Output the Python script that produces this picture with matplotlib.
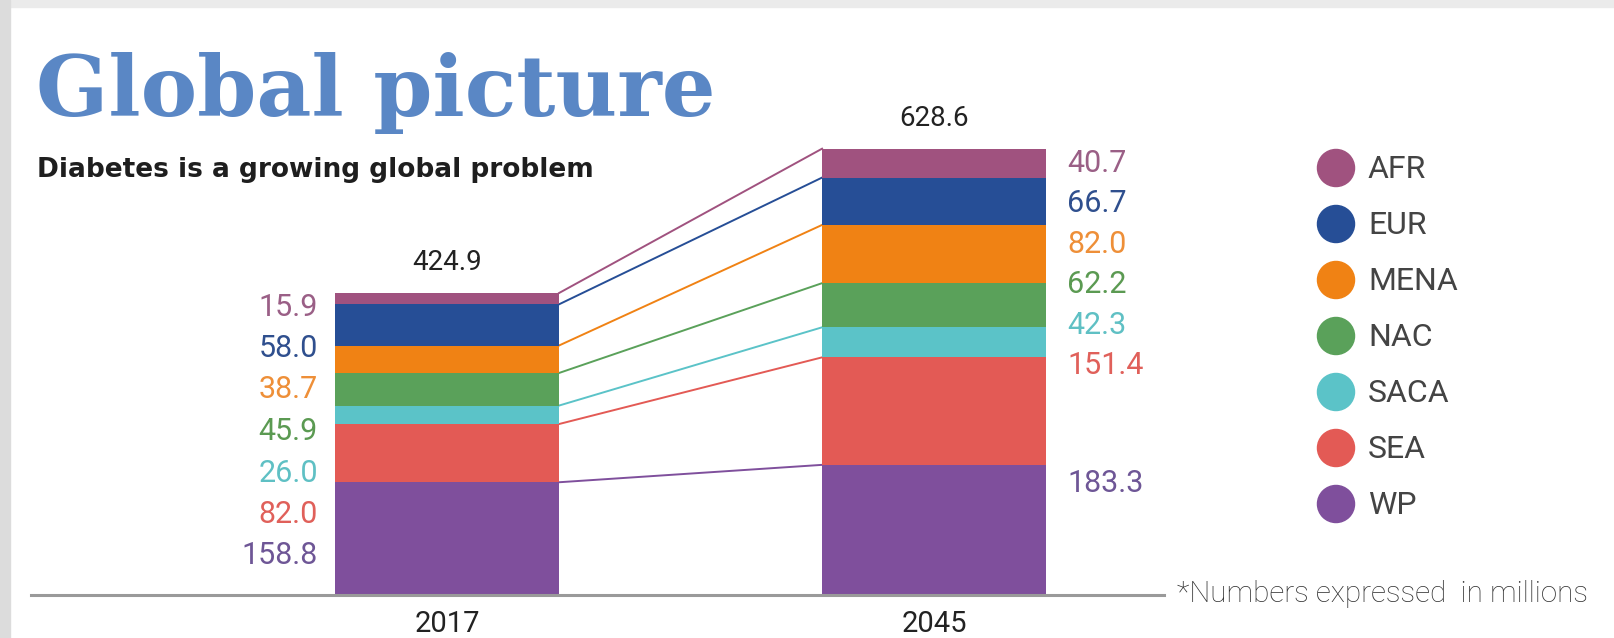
import numpy as np
import matplotlib.pyplot as plt
from matplotlib.patches import Rectangle

# data (millions)
years = ["2017", "2045"]
regions = ["AFR", "EUR", "MENA", "NAC", "SACA", "SEA", "WP"]
values_2017 = [15.9, 58.0, 38.7, 45.9, 26.0, 82.0, 158.8]
values_2045 = [40.7, 66.7, 82.0, 62.2, 42.3, 151.4, 183.3]
totals = [424.9, 628.6]

fills = ["#a0527f", "#264e96", "#f08214", "#5aa15a", "#5bc3c8", "#e35a55", "#7f4f9c"]
label_cols = ["#9a5f86", "#2f4f8e", "#ee8f38", "#5b9a52", "#5fc0c4", "#e0605a", "#6e5696"]

W, H = 1615, 638
fig = plt.figure(figsize=(W / 100, H / 100), dpi=100)
fig.patch.set_facecolor("white")

def fx(px):
    return px / W

def fy(py):
    return 1 - py / H

# grey frame along top and left edge
fig.patches.append(Rectangle((0, fy(7)), 1, 7 / H, transform=fig.transFigure,
                             color="#ebebeb", zorder=0))
fig.patches.append(Rectangle((0, 0), 10 / W, 1, transform=fig.transFigure,
                             color="#dcdcdc", zorder=0))

ax = fig.add_axes([fx(31), fy(595), (1164 - 31) / W, (595 - 98) / H])
ax.set_xlim(-0.854, 1.472)
ax.set_ylim(0, 700)
ax.patch.set_alpha(0)

x = np.arange(len(years))
bw = 0.46

# stack from the bottom (WP) up to AFR
bottom = np.zeros(2)
tops = {}
for name, v17, v45, c in reversed(list(zip(regions, values_2017, values_2045, fills))):
    h = np.array([v17, v45])
    ax.bar(x, h, bw, bottom=bottom, color=c, zorder=2)
    bottom = bottom + h
    tops[name] = bottom.copy()

# connector lines between the tops of matching segments
for name, c in zip(regions, fills):
    t = tops[name]
    ax.plot([x[0] + bw / 2, x[1] - bw / 2], t, color=c, lw=1.4, zorder=1)

for xi, tot in zip(x, totals):
    ax.annotate(f"{tot:.1f}", (xi, tot), xytext=(0, 22), textcoords="offset points",
                ha="center", va="center", family="Roboto", fontsize=20, color="#222222")

for s in ["top", "left", "right"]:
    ax.spines[s].set_visible(False)
ax.spines["bottom"].set_color("#9a9a9a")
ax.spines["bottom"].set_linewidth(2.2)
ax.set_yticks([])
ax.set_xticks(x)
ax.set_xticklabels(years, family="Roboto", fontsize=21, color="#222222")
ax.tick_params(axis="x", length=0, pad=11)

# value labels beside the bars
left_y = np.linspace(307, 556, len(regions))
for v, c, py in zip(values_2017, label_cols, left_y):
    fig.text(fx(318), fy(py), f"{v:.1f}", ha="right", va="center",
             family="Roboto", fontsize=22, color=c)

right_y = list(np.linspace(163, 366, len(regions) - 1)) + [484]
for v, c, py in zip(values_2045, label_cols, right_y):
    fig.text(fx(1067), fy(py), f"{v:.1f}", ha="left", va="center",
             family="Roboto", fontsize=22, color=c)

# legend
lax = fig.add_axes([fx(1300), fy(532), 250 / W, (532 - 140) / H])
lax.set_xlim(0, 250)
lax.set_ylim(6.5, -0.5)
ly = np.arange(len(regions))
lax.scatter(np.full(len(regions), 36), ly, s=37 ** 2 * 0.52, c=fills, zorder=2)
for yi, name in zip(ly, regions):
    lax.text(68, yi + 0.03, name, va="center", ha="left", family="Roboto",
             fontsize=23, color="#444444")
lax.axis("off")

fig.text(fx(36), fy(116), "Global picture", family="DejaVu Serif", weight="bold",
         fontsize=61, color="#5a87c5", va="baseline")
fig.text(fx(37), fy(170), "Diabetes is a growing global problem", family="DejaVu Sans",
         weight="bold", fontsize=19, color="#1e1e1e", va="center")
fig.text(fx(1177), fy(594), "*Numbers expressed  in millions", family="Roboto",
         fontsize=21.3, color="#333333", va="center", fontweight="light")

fig.savefig("out.png", dpi=100)
